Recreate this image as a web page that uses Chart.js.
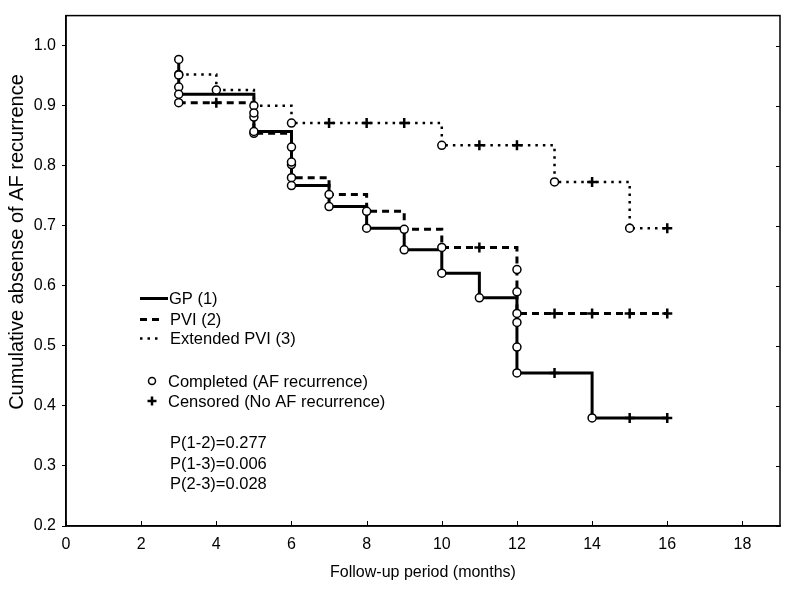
<!DOCTYPE html>
<html>
<head>
<meta charset="utf-8">
<script src="https://cdn.jsdelivr.net/npm/chart.js@4.4.0/dist/chart.umd.min.js"></script>
<style>
  html, body { margin: 0; padding: 0; background: #ffffff; }
  #wrap { width: 791px; height: 591px; }
</style>
</head>
<body>
<div id="wrap"><canvas id="c" width="791" height="591"></canvas></div>
<script>
// ---------------- data ----------------
const seriesNames = ['GP (1)', 'PVI (2)', 'Extended PVI (3)'];

// GP (1) – solid line
const gpEventTimes  = [3, 3, 3, 3, 5, 5, 6, 6, 6, 7, 8, 9, 10, 11, 12, 12, 12, 14];
const gpEventValues = [0.977, 0.951, 0.931, 0.919, 0.888, 0.857, 0.831, 0.806, 0.767, 0.732, 0.696, 0.660, 0.621, 0.580, 0.539, 0.498, 0.455, 0.380];
const gpCensorTimes = [13, 15, 16];

// PVI (2) – dashed line
const pviEventTimes  = [3, 5, 5, 6, 6, 7, 8, 9, 10, 12, 12, 12];
const pviEventValues = [0.905, 0.881, 0.854, 0.802, 0.780, 0.752, 0.724, 0.694, 0.664, 0.627, 0.590, 0.554];
const pviCensorTimes = [4, 11, 13, 14, 15, 16];

// Extended PVI (3) – dotted line
const extEventTimes  = [3, 4, 5, 6, 10, 13, 15];
const extEventValues = [0.952, 0.926, 0.900, 0.871, 0.834, 0.773, 0.696];
const extCensorTimes = [7, 8, 9, 11, 12, 14, 16];

const xTickValues = [0, 2, 4, 6, 8, 10, 12, 14, 16, 18];
const yTickValues = [0.2, 0.3, 0.4, 0.5, 0.6, 0.7, 0.8, 0.9, 1.0];
const markerLabels = ['Completed (AF recurrence)', 'Censored (No AF recurrence)'];
const pValueLabels = ['P(1-2)=0.277', 'P(1-3)=0.006', 'P(2-3)=0.028'];
const xAxisTitle = 'Follow-up period (months)';
const yAxisTitle = 'Cumulative absense of AF recurrence';

// ---------------- helpers ----------------
function stepPath(times, values, endTime) {
  const pts = [{ x: times[0], y: values[0] }];
  for (let i = 1; i < times.length; i++) {
    if (times[i] !== times[i - 1]) pts.push({ x: times[i], y: values[i - 1] });
    pts.push({ x: times[i], y: values[i] });
  }
  const last = times.length - 1;
  if (endTime > times[last]) pts.push({ x: endTime, y: values[last] });
  return pts;
}
function levelAt(times, values, t) {
  let v = values[0];
  for (let i = 0; i < times.length; i++) if (times[i] <= t) v = values[i];
  return v;
}
function eventPoints(times, values) {
  return times.map((t, i) => ({ x: t, y: values[i] }));
}
function censorPoints(times, values, cTimes) {
  return cTimes.map(t => ({ x: t, y: levelAt(times, values, t) }));
}

const styles = [
  { borderWidth: 3,   borderDash: [] },
  { borderWidth: 3,   borderDash: [7, 5] },
  { borderWidth: 2.5, borderDash: [2.5, 5] }
];
const series = [
  [gpEventTimes, gpEventValues, gpCensorTimes],
  [pviEventTimes, pviEventValues, pviCensorTimes],
  [extEventTimes, extEventValues, extCensorTimes]
];

const datasets = [];
series.forEach((s, k) => {
  const endT = Math.max(s[0][s[0].length - 1], ...s[2]);
  datasets.push({
    label: seriesNames[k],
    data: stepPath(s[0], s[1], endT),
    showLine: true,
    borderColor: '#000',
    borderWidth: styles[k].borderWidth,
    borderDash: styles[k].borderDash,
    borderCapStyle: 'butt',
    borderJoinStyle: 'miter',
    pointRadius: 0,
    fill: false,
    tension: 0,
    order: 2
  });
});
series.forEach((s, k) => {
  datasets.push({
    label: seriesNames[k] + ' completed',
    data: eventPoints(s[0], s[1]),
    showLine: false,
    pointStyle: 'circle',
    pointRadius: 4,
    pointBorderWidth: 1.5,
    pointBackgroundColor: '#fff',
    pointBorderColor: '#000',
    order: 0
  });
  datasets.push({
    label: seriesNames[k] + ' censored',
    data: censorPoints(s[0], s[1], s[2]),
    showLine: false,
    pointStyle: 'cross',
    pointRadius: 5,
    pointBorderWidth: 2.5,
    pointBorderColor: '#000',
    order: 0
  });
});

const FONT = '"Liberation Sans", Arial, sans-serif';

const overlay = {
  id: 'overlay',
  beforeDraw(chart) {
    const ctx = chart.ctx;
    ctx.save();
    ctx.fillStyle = '#fff';
    ctx.fillRect(0, 0, chart.width, chart.height);
    ctx.restore();
  },
  afterDraw(chart) {
    const ctx = chart.ctx;
    const a = chart.chartArea;
    const xs = chart.scales.x, ys = chart.scales.y;
    ctx.save();
    // frame
    ctx.strokeStyle = '#000';
    ctx.lineWidth = 1.5;
    ctx.setLineDash([]);
    ctx.strokeRect(a.left, a.top, a.right - a.left, a.bottom - a.top);
    // inside ticks on bottom axis and right axis
    ctx.lineWidth = 1;
    xTickValues.forEach(v => {
      const px = Math.round(xs.getPixelForValue(v)) + 0.5;
      ctx.beginPath(); ctx.moveTo(px, a.bottom); ctx.lineTo(px, a.bottom - 5); ctx.stroke();
    });
    yTickValues.forEach(v => {
      const py = Math.round(ys.getPixelForValue(v)) + 0.5;
      ctx.beginPath(); ctx.moveTo(a.right, py); ctx.lineTo(a.right - 4, py); ctx.stroke();
    });

    // y axis title
    ctx.fillStyle = '#000';
    ctx.font = '20px ' + FONT;
    ctx.textAlign = 'center';
    ctx.textBaseline = 'middle';
    ctx.translate(17, 242);
    ctx.rotate(-Math.PI / 2);
    ctx.fillText(yAxisTitle, 0, 0);
    ctx.setTransform(1, 0, 0, 1, 0, 0);

    // legend
    const L = a.left;
    ctx.font = '16.5px ' + FONT;
    ctx.textAlign = 'left';
    ctx.textBaseline = 'middle';
    const rows = [298, 319, 338];
    const sampleEnd = [L + 102, L + 95, L + 94];
    rows.forEach((y, k) => {
      ctx.beginPath();
      ctx.lineWidth = styles[k].borderWidth;
      ctx.setLineDash(styles[k].borderDash);
      ctx.lineCap = 'butt';
      ctx.moveTo(L + 74, y + 0.5);
      ctx.lineTo(sampleEnd[k], y + 0.5);
      ctx.stroke();
      ctx.setLineDash([]);
      ctx.fillText(seriesNames[k], L + (k === 0 ? 103 : 104), y + 1);
    });
    // marker legend
    ctx.lineWidth = 1.5;
    ctx.beginPath();
    ctx.arc(L + 86, 381, 3.5, 0, Math.PI * 2);
    ctx.fillStyle = '#fff'; ctx.fill();
    ctx.strokeStyle = '#000'; ctx.stroke();
    ctx.lineWidth = 2.5;
    ctx.beginPath();
    ctx.moveTo(L + 81.5, 401); ctx.lineTo(L + 90.5, 401);
    ctx.moveTo(L + 86, 396.5); ctx.lineTo(L + 86, 405.5);
    ctx.stroke();
    ctx.fillStyle = '#000';
    ctx.fillText(markerLabels[0], L + 102, 382);
    ctx.fillText(markerLabels[1], L + 102, 402);
    // p-values
    const pRows = [443, 464, 484];
    pValueLabels.forEach((t, i) => ctx.fillText(t, L + 104, pRows[i]));
    ctx.restore();
  }
};

new Chart(document.getElementById('c'), {
  type: 'scatter',
  data: { datasets },
  options: {
    responsive: false,
    animation: false,
    events: [],
    devicePixelRatio: 1,
    layout: { padding: { left: 0, top: 11, right: 11, bottom: 0 } },
    plugins: { legend: { display: false }, tooltip: { enabled: false } },
    scales: {
      x: {
        type: 'linear',
        min: 0, max: 19,
        afterBuildTicks: s => { s.ticks = xTickValues.map(v => ({ value: v })); },
        afterFit: s => { s.height = 65; },
        ticks: { color: '#000', font: { family: FONT, size: 16 }, padding: 9, maxRotation: 0, autoSkip: false,
                 callback: v => String(v) },
        grid: { display: true, drawOnChartArea: false, drawTicks: false, color: '#000' },
        border: { display: true, color: '#000', width: 1.5 },
        title: { display: true, text: xAxisTitle, color: '#000', font: { family: FONT, size: 16 }, padding: { top: 0, bottom: 9 } }
      },
      y: {
        type: 'linear',
        min: 0.2, max: 1.05,
        afterBuildTicks: s => { s.ticks = yTickValues.map(v => ({ value: v })); },
        afterFit: s => { s.width = 66; },
        ticks: { color: '#000', font: { family: FONT, size: 16 }, padding: 6, autoSkip: false,
                 callback: v => Number(v).toFixed(1) },
        grid: { display: true, drawOnChartArea: false, drawTicks: true, tickLength: 4, color: '#000' },
        border: { display: true, color: '#000', width: 1.5 }
      }
    }
  },
  plugins: [overlay]
});
</script>
</body>
</html>
